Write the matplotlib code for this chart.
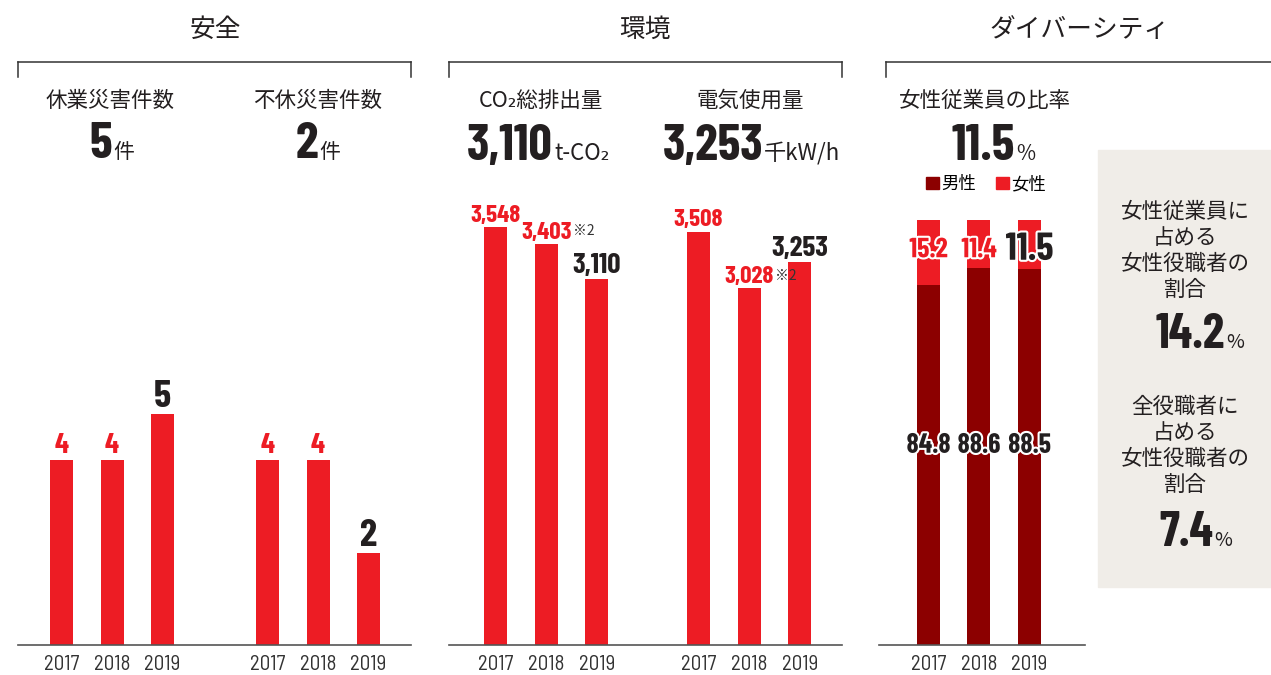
import matplotlib
matplotlib.use("Agg")
import matplotlib.pyplot as plt
import matplotlib.patheffects as pe
from matplotlib.lines import Line2D
from matplotlib.patches import Rectangle, Patch

plt.rcParams['font.family'] = ['Noto Sans CJK JP', 'DejaVu Sans']

# data
years = ['2017', '2018', '2019']
lost_time_injuries = [4, 4, 5]
non_lost_time_injuries = [4, 4, 2]
co2_emissions = [3548, 3403, 3110]
electricity_use = [3508, 3028, 3253]
male_ratio = [84.8, 88.6, 88.5]
female_ratio = [15.2, 11.4, 11.5]
female_mgr_in_female_staff = 14.2
female_mgr_in_all_mgr = 7.4

RED = '#ed1c24'
DARK_RED = '#8c0000'
INK = '#231f20'
GREY = '#333333'
NUM = ['Barlow Condensed', 'Roboto Condensed', 'DejaVu Sans']
YEAR = ['Barlow Semi Condensed', 'Barlow Condensed', 'Roboto Condensed', 'DejaVu Sans']
JP = ['Noto Sans CJK JP', 'DejaVu Sans']

W, H = 1271, 675
fig = plt.figure(figsize=(W / 100, H / 100), dpi=100)


def fx(x):
    return x / W


def fy(y):
    return 1 - y / H


def make_axes(left, right, top=150, bottom=645):
    ax = fig.add_axes([fx(left), fy(bottom), (right - left) / W, (bottom - top) / H])
    ax.set_facecolor('none')
    for s in ['top', 'right', 'left']:
        ax.spines[s].set_visible(False)
    ax.spines['bottom'].set_color('#555555')
    ax.spines['bottom'].set_linewidth(1.2)
    ax.set_yticks([])
    ax.tick_params(axis='x', length=0, pad=7, labelsize=15, labelcolor=GREY)
    return ax


def year_labels(ax, xs):
    ax.set_xticks(xs)
    ax.set_xticklabels(years * (len(xs) // len(years)))
    for t in ax.get_xticklabels():
        t.set_fontfamily(YEAR)


def value_labels(ax, xs, vals, fmt, small, big, note=None, gap=5):
    for i, (x, v) in enumerate(zip(xs, vals)):
        last = i == len(vals) - 1
        t = ax.annotate(fmt.format(v), (x, v), xytext=(0, gap), textcoords='offset points',
                        ha='center', va='baseline', fontsize=big if last else small,
                        color=INK if last else RED, fontweight='bold', family=NUM)
        if note is not None and i == note:
            ax.annotate('※2', xy=(1, 1), xycoords=t, xytext=(1, -2), textcoords='offset points',
                        ha='left', va='top', fontsize=10, color=GREY, family=JP)


def headline(x_right, y_base, number, unit, size=37, unit_size=15):
    fig.text(fx(x_right), fy(y_base), number, ha='right', va='baseline',
             fontsize=size, fontweight='bold', color=INK, family=NUM)
    fig.text(fx(x_right + 1), fy(y_base), unit, ha='left', va='baseline',
             fontsize=unit_size, color=INK, family=JP)


def bracket(x0, x1, right_tick=True):
    y0, y1 = fy(62), fy(77)
    fig.add_artist(Line2D([fx(x0), fx(x1)], [y0, y0], color=GREY, lw=1.1,
                          transform=fig.transFigure))
    fig.add_artist(Line2D([fx(x0), fx(x0)], [y0, y1], color=GREY, lw=1.1,
                          transform=fig.transFigure))
    if right_tick:
        fig.add_artist(Line2D([fx(x1), fx(x1)], [y0, y1], color=GREY, lw=1.1,
                              transform=fig.transFigure))


# section titles and brackets
for x, title in [(215, '安全'), (645, '環境'), (1080, 'ダイバーシティ')]:
    fig.text(fx(x), fy(30), title, ha='center', va='center', fontsize=18.5, color=INK)
bracket(18, 411)
bracket(449, 842)
bracket(886, 1275, right_tick=False)

for x, sub in [(110, '休業災害件数'), (318, '不休災害件数'), (541, 'CO₂総排出量'),
               (750, '電気使用量'), (985, '女性従業員の比率')]:
    fig.text(fx(x), fy(101), sub, ha='center', va='center', fontsize=15.5, color=INK)

# safety
bar_w = 23
ax1 = make_axes(18, 411)
unit1 = 50.5
pos_a = [0, 1, 2]
pos_b = [4.08, 5.08, 6.08]
ax1.bar(pos_a, lost_time_injuries, width=bar_w / unit1, color=RED)
ax1.bar(pos_b, non_lost_time_injuries, width=bar_w / unit1, color=RED)
ax1.set_xlim((18 - 61.5) / unit1, (411 - 61.5) / unit1)
ax1.set_ylim(0, 495 / 46.2)
year_labels(ax1, pos_a + pos_b)
value_labels(ax1, pos_a, lost_time_injuries, '{}', 21, 28, gap=5)
value_labels(ax1, pos_b, non_lost_time_injuries, '{}', 21, 28, gap=5)
headline(112, 158, str(lost_time_injuries[-1]), '件')
headline(318, 158, str(non_lost_time_injuries[-1]), '件')

# environment
ax2 = make_axes(449, 842)
unit2 = 50.7
pos_c = [0, 1, 2]
pos_e = [4, 5, 6]
ax2.bar(pos_c, co2_emissions, width=bar_w / unit2, color=RED)
ax2.bar(pos_e, electricity_use, width=bar_w / unit2, color=RED)
ax2.set_xlim((449 - 495.5) / unit2, (842 - 495.5) / unit2)
ax2.set_ylim(0, 495 * 8.49)
year_labels(ax2, pos_c + pos_e)
value_labels(ax2, pos_c, co2_emissions, '{:,}', 18, 21, note=1, gap=4)
value_labels(ax2, pos_e, electricity_use, '{:,}', 18, 21, note=1, gap=4)
headline(553, 160, f'{co2_emissions[-1]:,}', 't-CO₂', unit_size=16)
headline(763, 160, f'{electricity_use[-1]:,}', '千kW/h', unit_size=16)

# diversity
ax3 = make_axes(879, 1085)
unit3 = 50.5
pos_d = [0, 1, 2]
ax3.bar(pos_d, male_ratio, width=bar_w / unit3, color=DARK_RED, label='男性')
ax3.bar(pos_d, female_ratio, bottom=male_ratio, width=bar_w / unit3, color=RED, label='女性')
ax3.set_xlim((879 - 928.5) / unit3, (1085 - 928.5) / unit3)
ax3.set_ylim(0, 495 / 4.25)
year_labels(ax3, pos_d)
halo = [pe.withStroke(linewidth=3, foreground='white')]
for i, x in enumerate(pos_d):
    last = i == len(pos_d) - 1
    ax3.text(x, 93, f'{female_ratio[i]}', ha='center', va='center',
             fontsize=28 if last else 20, fontweight='bold',
             color=INK if last else RED, family=NUM, path_effects=halo)
    ax3.text(x, 47, f'{male_ratio[i]}', ha='center', va='center', fontsize=20,
             fontweight='bold', color=INK, family=NUM, path_effects=halo)
headline(1015, 160, f'{female_ratio[-1]}', '%', unit_size=15)
fig.legend(handles=[Patch(color=DARK_RED, label='男性'), Patch(color=RED, label='女性')],
           loc='center', bbox_to_anchor=(fx(986), fy(184)), ncol=2, frameon=False,
           handlelength=0.75, handleheight=0.75, handletextpad=0.15,
           columnspacing=1.1, prop={'family': JP, 'size': 12.5})

# side box
fig.add_artist(Rectangle((fx(1098), fy(587)), (W - 1098) / W, (587 - 150) / H,
                         transform=fig.transFigure, color='#f0ede8', zorder=0))
fig.text(fx(1185), fy(251), '女性従業員に\n占める\n女性役職者の\n割合', ha='center', va='center',
         fontsize=15.5, color=INK, linespacing=1.22)
headline(1225, 348, f'{female_mgr_in_female_staff}', '%', size=35, unit_size=14)
fig.text(fx(1185), fy(446), '全役職者に\n占める\n女性役職者の\n割合', ha='center', va='center',
         fontsize=15.5, color=INK, linespacing=1.22)
headline(1213, 546, f'{female_mgr_in_all_mgr}', '%', size=35, unit_size=14)

fig.savefig('out.png', dpi=100)
